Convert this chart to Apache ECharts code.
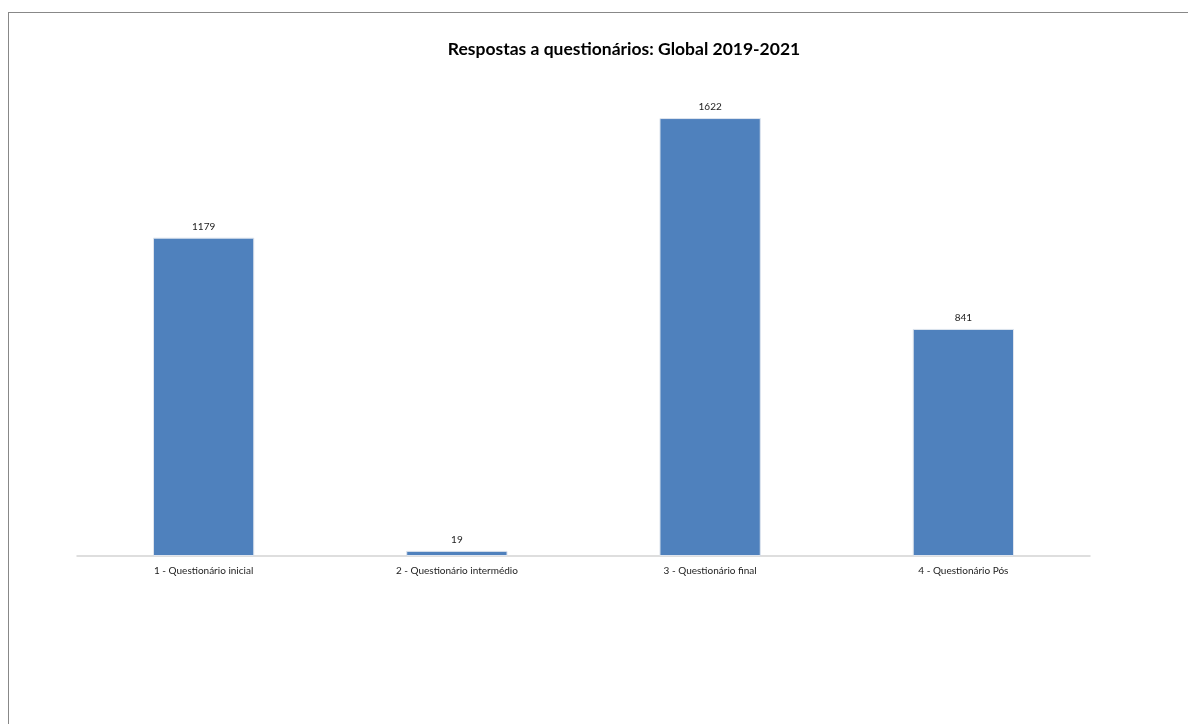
<!DOCTYPE html>
<html>
<head>
<meta charset="utf-8">
<script src="https://cdn.jsdelivr.net/npm/echarts@6/dist/echarts.min.js"></script>
<style>
  html, body { margin: 0; padding: 0; background: #fff; }
  #chart { width: 1188px; height: 724px; position: relative; }
  #frame { position: absolute; left: 8px; top: 12px; right: -2px; bottom: -2px; border-left: 1px solid #888; border-top: 1px solid #888; pointer-events: none; }
</style>
</head>
<body>
<div id="chart"></div>
<div id="frame"></div>
<script>
const categories = ['1 - Questionário inicial', '2 - Questionário intermédio', '3 - Questionário final', '4 - Questionário Pós'];
const values = [1179, 19, 1622, 841];

const chart = echarts.init(document.getElementById('chart'), null, { renderer: 'canvas' });
chart.setOption({
  animation: false,
  backgroundColor: '#ffffff',
  title: {
    text: 'Respostas a questionários: Global 2019-2021',
    left: 619,
    top: 35,
    textAlign: 'center',
    textStyle: { fontFamily: 'Lato, "Open Sans", sans-serif', fontSize: 17.5, fontWeight: 'bold', color: '#000' }
  },
  grid: { left: 77, right: 98, top: 70, bottom: 168, containLabel: false },
  xAxis: {
    type: 'category',
    data: categories,
    axisLine: { lineStyle: { color: '#d4d4d4', width: 1.5 } },
    axisTick: { show: false },
    axisLabel: { fontFamily: 'Lato, "Open Sans", sans-serif', fontSize: 10, color: '#222', margin: 10 }
  },
  yAxis: {
    type: 'value',
    min: 0,
    max: 1800,
    show: false,
    splitLine: { show: false }
  },
  series: [{
    type: 'bar',
    data: values,
    barWidth: '40%',
    itemStyle: { color: '#4F81BD', borderColor: '#dfe5ee', borderWidth: 1 },
    label: {
      show: true,
      position: 'top',
      distance: 6,
      fontFamily: 'Lato, "Open Sans", sans-serif',
      fontSize: 10,
      color: '#222'
    }
  }]
});
</script>
</body>
</html>
